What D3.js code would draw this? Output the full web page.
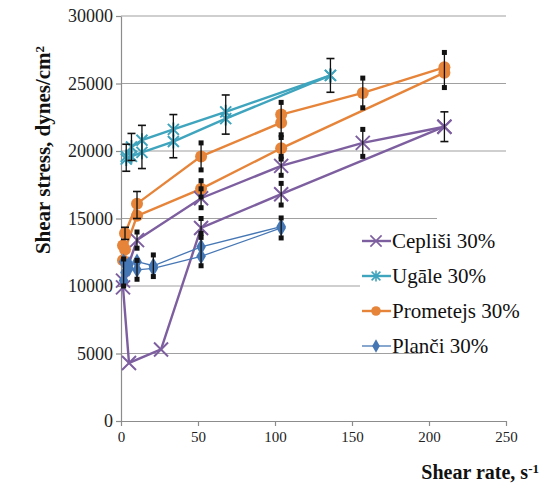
<!DOCTYPE html>
<html>
<head>
<meta charset="utf-8">
<script src="https://cdn.jsdelivr.net/npm/d3@7"></script>
<style>
  body { margin: 0; background: #fff; }
  text { font-family: "Liberation Serif", "Times New Roman", serif; }
</style>
</head>
<body>
<script>
// Data (shear rate s-1, shear stress dynes/cm2)
const cepUp = [[1.3, 10400], [10.4, 13400], [52, 16500], [104, 18900], [157, 20600], [210, 21800]];
const cepDown = [[1.3, 9900], [5.2, 4300], [26, 5300], [52, 14300], [104, 16800], [210, 21800]];
const ugaleUp = [[3.4, 19600], [6.8, 20300], [13.6, 20800], [34, 21600], [68, 22900], [136, 25600]];
const ugaleDown = [[3.4, 19400], [6.8, 19600], [13.6, 19900], [34, 20700], [68, 22400], [136, 25600]];
const promUp = [[1.3, 13000], [2.6, 13900], [10.4, 16100], [52, 19600], [104, 22100], [104, 22700], [157, 24300], [210, 26200]];
const promDown = [[1.3, 11900], [2.6, 12700], [10.4, 15200], [52, 17200], [104, 20200], [210, 25800]];
const planUp = [[1.7, 11800], [5.2, 11600], [10.4, 11800], [21, 11500], [52, 12900], [104, 14400]];
const planDown = [[1.7, 10400], [2.6, 11000], [5.2, 11300], [10.4, 11200], [21, 11300], [52, 12200], [104, 14300]];

// error bars: [x, y, half range]
const ugaleErrCap = [[3.4, 19500, 1000], [6.8, 20300, 1000], [13.6, 20300, 1600], [34, 21100, 1600], [68, 22700, 1450], [136, 25600, 1250]];
const promErrCap = [[2.6, 13900, 450], [10.4, 16000, 1000]];
const promErrSq = [[52, 19600, 1000], [52, 17200, 600], [104, 22400, 1200], [104, 20200, 800], [157, 24300, 1100], [210, 26000, 1300]];
const cepErrCap = [[210, 21800, 1100]];
const cepErrSq = [[10.4, 13400, 600], [52, 16500, 700], [52, 14300, 700], [104, 18900, 700], [104, 16800, 800], [157, 20600, 1000]];
const planErrSq = [[1.7, 11000, 1000], [10.4, 11200, 700], [21, 11500, 800], [52, 12700, 1200], [104, 14300, 740]];

const xTicks = [0, 50, 100, 150, 200, 250];
const yTicks = [0, 5000, 10000, 15000, 20000, 25000, 30000];

const width = 543, height = 488;

const svg = d3.select("body").append("svg")
    .attr("width", width)
    .attr("height", height);

const x = d3.scaleLinear().domain([0, 250]).range([121, 506]);
const y = d3.scaleLinear().domain([0, 30000]).range([421, 16]);

// gridlines
svg.append("g")
    .selectAll("line")
    .data(yTicks.slice(1))
    .join("line")
    .attr("x1", x(0)).attr("x2", x(250))
    .attr("y1", d => y(d)).attr("y2", d => y(d))
    .attr("stroke", "#a0a0a0")
    .attr("stroke-width", 1.2);

// axes
const yAxis = svg.append("g")
    .attr("transform", `translate(${x(0)},0)`)
    .call(d3.axisLeft(y).tickValues(yTicks).tickSize(5).tickSizeOuter(0).tickFormat(d3.format("d")));
const xAxis = svg.append("g")
    .attr("transform", `translate(0,${y(0)})`)
    .call(d3.axisBottom(x).tickValues(xTicks).tickSize(5).tickSizeOuter(0));

[yAxis, xAxis].forEach(a => {
  a.select(".domain").attr("stroke", "#8c8c8c").attr("stroke-width", 1.2);
  a.selectAll(".tick line").attr("stroke", "#8c8c8c").attr("stroke-width", 1.2);
  a.selectAll("text")
      .attr("fill", "#222")
      .style("font-family", "'Liberation Serif', serif");
});
yAxis.selectAll("text").style("font-size", "18px").attr("x", -8);
xAxis.selectAll("text").style("font-size", "15px").attr("dy", "0.85em");

// white area behind the legend (cuts the gridlines)
svg.append("path")
    .attr("d", "M437,212 H512 V360 H422 V346 H360 V226 H437 Z")
    .attr("fill", "#fff");

// markers
function marker(g, type, color) {
  if (type === "x") {
    g.append("path").attr("d", "M-7,-7L7,7M-7,7L7,-7")
        .attr("stroke", color).attr("stroke-width", 2).attr("fill", "none");
  } else if (type === "star") {
    g.append("path").attr("d", "M-5.5,-5.5L5.5,5.5M-5.5,5.5L5.5,-5.5M0,-7L0,7")
        .attr("stroke", color).attr("stroke-width", 2).attr("fill", "none");
  } else if (type === "circle") {
    g.append("circle").attr("r", 6).attr("fill", color);
  } else {
    g.append("path").attr("d", d3.symbol(d3.symbolDiamond, 80)()).attr("fill", color);
  }
}

const series = [
  { name: "Cepliši 30%", color: "#7d5fa0", type: "x", lw: 2.4, curves: [cepUp, cepDown] },
  { name: "Ugāle 30%", color: "#3fa4bd", type: "star", lw: 2.4, curves: [ugaleUp, ugaleDown] },
  { name: "Prometejs 30%", color: "#e6843a", type: "circle", lw: 2.4, curves: [promUp, promDown] },
  { name: "Planči 30%", color: "#4677b5", type: "diamond", lw: 1.3, curves: [planUp, planDown] }
];

const line = d3.line().x(d => x(d[0])).y(d => y(d[1]));

series.forEach(s => {
  s.curves.forEach(c => {
    svg.append("path")
        .datum(c)
        .attr("d", line)
        .attr("fill", "none")
        .attr("stroke", s.color)
        .attr("stroke-width", s.lw);
  });
});

series.forEach(s => {
  s.curves.forEach(c => {
    c.forEach(d => {
      const g = svg.append("g").attr("transform", `translate(${x(d[0])},${y(d[1])})`);
      marker(g, s.type, s.color);
    });
  });
});

// error bars
function errorBars(data, square) {
  const g = svg.append("g");
  data.forEach(d => {
    const px = x(d[0]), y1 = y(d[1] + d[2]), y2 = y(d[1] - d[2]);
    g.append("line").attr("x1", px).attr("x2", px).attr("y1", y1).attr("y2", y2)
        .attr("stroke", "#111").attr("stroke-width", 1.3);
    [y1, y2].forEach(py => {
      if (square) {
        g.append("rect").attr("x", px - 2.5).attr("y", py - 2.5).attr("width", 5).attr("height", 5).attr("fill", "#111");
      } else {
        g.append("line").attr("x1", px - 4).attr("x2", px + 4).attr("y1", py).attr("y2", py)
            .attr("stroke", "#111").attr("stroke-width", 1.6);
      }
    });
  });
}
errorBars(ugaleErrCap, false);
errorBars(promErrCap, false);
errorBars(promErrSq, true);
errorBars(cepErrCap, false);
errorBars(cepErrSq, true);
errorBars(planErrSq, true);

// legend
const legend = svg.append("g");
series.forEach((s, i) => {
  const ly = 241 + i * 35;
  legend.append("line")
      .attr("x1", 362).attr("x2", 391).attr("y1", ly).attr("y2", ly)
      .attr("stroke", s.color).attr("stroke-width", s.lw);
  marker(legend.append("g").attr("transform", `translate(376,${ly}) scale(0.8)`), s.type, s.color);
  legend.append("text")
      .attr("x", 392).attr("y", ly)
      .attr("dy", "0.35em")
      .style("font-size", "21px")
      .attr("fill", "#111")
      .text(s.name);
});

// axis titles
svg.append("text")
    .attr("transform", "translate(50,150) rotate(-90)")
    .attr("text-anchor", "middle")
    .style("font-size", "21px")
    .style("font-weight", "bold")
    .attr("fill", "#111")
    .text("Shear  stress, dynes/cm")
  .append("tspan")
    .attr("dy", "-0.45em")
    .style("font-size", "13px")
    .text("2");

svg.append("text")
    .attr("x", 539).attr("y", 479)
    .attr("text-anchor", "end")
    .style("font-size", "20px")
    .style("font-weight", "bold")
    .attr("fill", "#111")
    .text("Shear rate, s")
  .append("tspan")
    .attr("dy", "-0.45em")
    .style("font-size", "13px")
    .text("-1");
</script>
</body>
</html>
